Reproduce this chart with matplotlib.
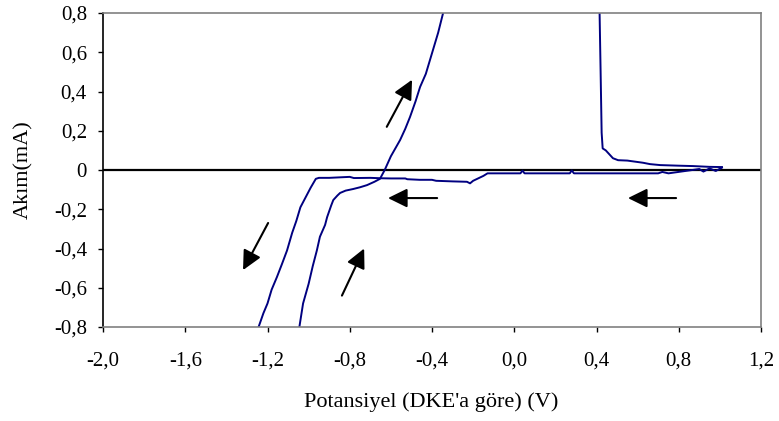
import matplotlib
matplotlib.use('Agg')
import matplotlib.pyplot as plt
from matplotlib.ticker import FuncFormatter

plt.rcParams['font.family'] = ['Liberation Serif', 'DejaVu Serif']

# forward (cathodic) sweep, from +1.0 V leftwards
xa = [1.01, 0.98, 0.95, 0.92, 0.90, 0.75, 0.72, 0.70, 0.50, 0.29, 0.28, 0.27, 0.05, 0.04, 0.03,
      -0.13, -0.15, -0.18, -0.20, -0.215, -0.23, -0.30, -0.38, -0.40, -0.46, -0.52, -0.53, -0.60,
      -0.65, -0.70, -0.78, -0.80, -0.90, -0.95, -0.965, -0.99, -1.02, -1.04, -1.06, -1.08, -1.105,
      -1.13, -1.154, -1.18, -1.20, -1.22, -1.24, -1.25]
ya = [0.012, -0.005, 0.008, -0.008, 0.005, -0.017, -0.010, -0.017, -0.017, -0.017, -0.002, -0.017,
      -0.017, -0.003, -0.017, -0.017, -0.030, -0.045, -0.055, -0.068, -0.060, -0.058, -0.055, -0.050,
      -0.050, -0.047, -0.043, -0.043, -0.042, -0.040, -0.041, -0.035, -0.040, -0.040, -0.045, -0.09,
      -0.15, -0.19, -0.26, -0.32, -0.41, -0.48, -0.545, -0.61, -0.68, -0.73, -0.79, -0.82]

# reverse sweep, from -0.8 mA upwards
xb = [-1.05, -1.045, -1.027, -1.00, -0.98, -0.96, -0.945, -0.92, -0.91, -0.89, -0.88, -0.86, -0.847,
      -0.82, -0.784, -0.75, -0.716, -0.68, -0.653, -0.63, -0.60, -0.555, -0.53, -0.507, -0.48, -0.458,
      -0.43, -0.41, -0.39, -0.37, -0.346]
yb = [-0.82, -0.80, -0.68, -0.58, -0.49, -0.41, -0.34, -0.28, -0.24, -0.18, -0.153, -0.13, -0.117,
      -0.105, -0.097, -0.088, -0.077, -0.060, -0.045, 0.0, 0.07, 0.153, 0.21, 0.27, 0.35, 0.423,
      0.49, 0.56, 0.63, 0.70, 0.80]

# anodic return branch
xc = [0.412, 0.415, 0.42, 0.425, 0.43, 0.445, 0.466, 0.48, 0.505, 0.55, 0.626, 0.66, 0.71, 0.80,
      0.87, 0.95, 1.01]
yc = [0.82, 0.80, 0.50, 0.19, 0.11, 0.10, 0.076, 0.06, 0.05, 0.048, 0.037, 0.03, 0.025, 0.022,
      0.02, 0.016, 0.015]

# scan direction arrows: (tail, head)
arrows = [((0.787, -0.143), (0.553, -0.143)),
          ((-0.375, -0.143), (-0.614, -0.143)),
          ((-1.197, -0.27), (-1.319, -0.51)),
          ((-0.838, -0.64), (-0.73, -0.40)),
          ((-0.62, 0.22), (-0.497, 0.46))]

xticks = [-2.0, -1.6, -1.2, -0.8, -0.4, 0.0, 0.4, 0.8, 1.2]
yticks = [-0.8, -0.6, -0.4, -0.2, 0, 0.2, 0.4, 0.6, 0.8]

fig = plt.figure(figsize=(7.79, 4.21), dpi=100)
ax = fig.add_axes([103/779, 1 - 327/421, 658/779, 314/421])

ax.axhline(0, color='black', lw=1.6, zorder=1)
for xs, ys in [(xa, ya), (xb, yb), (xc, yc)]:
    ax.plot(xs, ys, color='#000080', lw=1.4, zorder=2)

for (tx, ty), (hx, hy) in arrows:
    ax.annotate('', xy=(hx, hy), xytext=(tx, ty),
                arrowprops=dict(arrowstyle='-|>,head_length=0.65,head_width=0.32',
                                mutation_scale=18, lw=1.5, color='black',
                                shrinkA=0, shrinkB=0))

ax.set_xlim(-2.0, 1.2)
ax.set_ylim(-0.8, 0.8)
ax.set_xticks(xticks)
ax.set_yticks(yticks)
ax.xaxis.set_major_formatter(FuncFormatter(lambda v, p: f'{v:.1f}'.replace('.', ',')))
ax.yaxis.set_major_formatter(FuncFormatter(
    lambda v, p: '0' if abs(v) < 1e-9 else f'{v:.1f}'.replace('.', ',')))
ax.tick_params(direction='out', length=3.6, width=1, labelsize=15)
ax.tick_params(axis='x', pad=14)
ax.tick_params(axis='y', pad=8)

for s in ['top', 'right', 'bottom']:
    ax.spines[s].set_color('#808080')
    ax.spines[s].set_linewidth(1.2)
ax.spines['left'].set_color('black')
ax.spines['left'].set_linewidth(1.2)

ax.set_xlabel("Potansiyel (DKE'a göre) (V)", fontsize=16)
ax.set_ylabel('Akım(mA)', fontsize=16)
ax.xaxis.set_label_coords(0.4985, -0.207)
ax.yaxis.set_label_coords(-0.106, 0.5)

fig.savefig('out.png', dpi=100)
